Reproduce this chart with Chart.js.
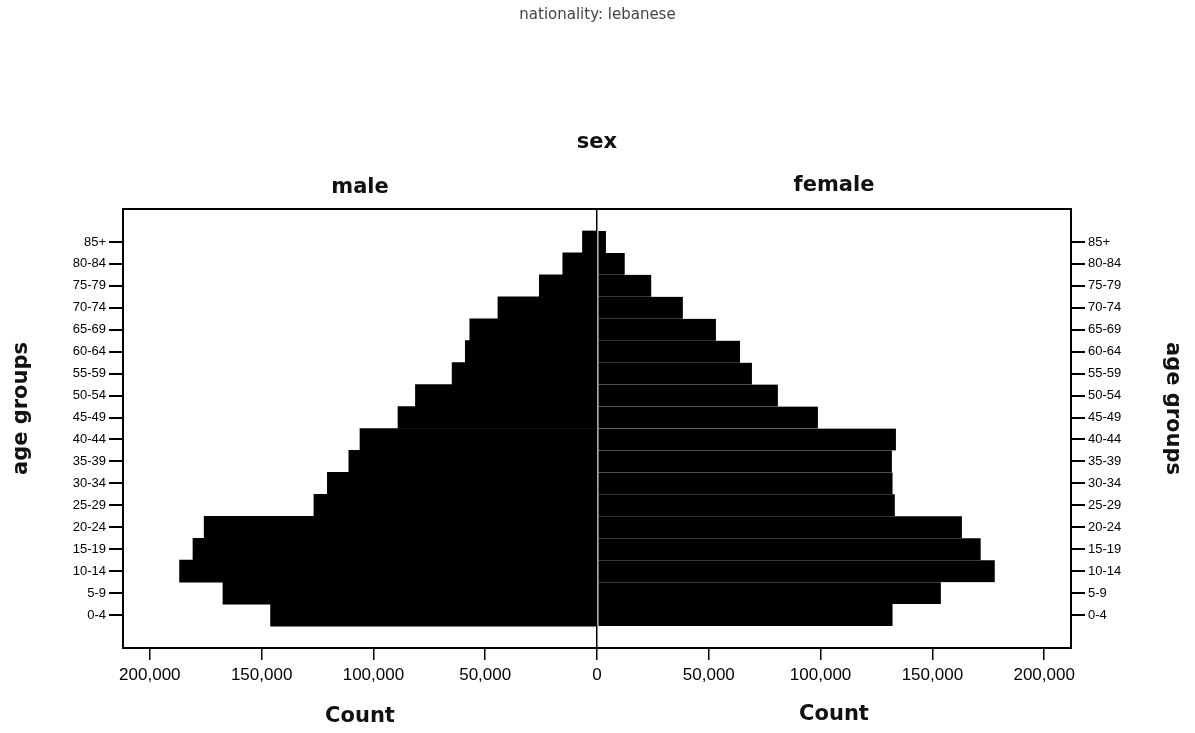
<!DOCTYPE html>
<html>
<head>
<meta charset="utf-8">
<script src="https://cdn.jsdelivr.net/npm/chart.js@4.4.0/dist/chart.umd.min.js"></script>
<style>
  html, body { margin: 0; padding: 0; background: #fff; }
</style>
</head>
<body>
<canvas id="chart" width="1195" height="733"></canvas>
<script>
// age groups, top row first (as in the picture)
const ageGroups = ["85+", "80-84", "75-79", "70-74", "65-69", "60-64", "55-59", "50-54", "45-49",
    "40-44", "35-39", "30-34", "25-29", "20-24", "15-19", "10-14", "5-9", "0-4"];
const maleCounts = [6500, 15300, 25800, 44300, 56900, 58900, 64800, 81200, 89000,
    106000, 111000, 120600, 126600, 175700, 180700, 186700, 167300, 146000];
const femaleCounts = [4000, 12400, 24300, 38400, 53200, 64000, 69300, 80900, 98800,
    133700, 131900, 132200, 133200, 163200, 171600, 177900, 153800, 132200];
const countTicks = [-200000, -150000, -100000, -50000, 0, 50000, 100000, 150000, 200000];
const countLimit = 212000;

// one empty row above and below, so the box has the extra space of the original
const rows = ["", ...ageGroups, ""];
const pad = list => [null, ...list, null];

const black = "#000";
const titleFont = 'bold 21px "DejaVu Sans"';

const keepRealRows = scale => {
    scale.ticks = scale.ticks.filter(t => rows[t.value] !== "");
};

const ageAxis = (position, width) => ({
    type: "category",
    position,
    offset: true,
    border: {display: false},
    grid: {drawOnChartArea: false, offset: false, tickLength: 14, tickColor: black, lineWidth: 2},
    ticks: {autoSkip: false, padding: 3, color: black, font: {family: "Liberation Sans", size: 13}},
    afterBuildTicks: keepRealRows,
    afterFit: scale => { scale.width = width; }
});

const panelText = {
    id: "panelText",
    afterDraw(chart) {
        const {ctx, chartArea: a, scales: {x}} = chart;
        const zero = x.getPixelForValue(0);
        const maleX = (a.left + zero) / 2;
        const femaleX = (zero + a.right) / 2;
        const midY = (a.top + a.bottom) / 2 - 20;
        ctx.save();
        ctx.strokeStyle = black;
        ctx.lineWidth = 2;
        ctx.strokeRect(a.left, a.top, a.right - a.left, a.bottom - a.top);

        ctx.textAlign = "center";
        ctx.textBaseline = "middle";
        ctx.fillStyle = "#444";
        ctx.font = '15px "DejaVu Sans"';
        ctx.fillText("nationality: lebanese", chart.width / 2, 15);

        ctx.fillStyle = "#111";
        ctx.font = titleFont;
        ctx.fillText("sex", zero, a.top - 66);
        ctx.fillText("male", maleX, a.top - 21);
        ctx.fillText("female", femaleX, a.top - 23);
        ctx.fillText("Count", maleX, a.bottom + 69);
        ctx.fillText("Count", femaleX, a.bottom + 67);

        ctx.translate(22, midY);
        ctx.rotate(-Math.PI / 2);
        ctx.fillText("age groups", 0, 0);
        ctx.restore();

        ctx.save();
        ctx.fillStyle = "#111";
        ctx.font = titleFont;
        ctx.textAlign = "center";
        ctx.textBaseline = "middle";
        ctx.translate(chart.width - 23, midY);
        ctx.rotate(Math.PI / 2);
        ctx.fillText("age groups", 0, 0);
        ctx.restore();
    }
};

new Chart("chart", {
    type: "bar",
    data: {
        labels: rows,
        datasets: [
            {label: "male", data: pad(maleCounts.map(v => -v)), backgroundColor: black},
            {
                label: "female",
                data: pad(femaleCounts),
                backgroundColor: black,
                borderColor: "#fff",
                borderWidth: {left: 1, top: 0, right: 0, bottom: 0},
                borderSkipped: false
            }
        ]
    },
    options: {
        indexAxis: "y",
        responsive: false,
        animation: false,
        devicePixelRatio: 1,
        barPercentage: 1,
        categoryPercentage: 1,
        layout: {padding: {top: 209, left: 0, right: 0, bottom: 0}},
        plugins: {legend: {display: false}, tooltip: {enabled: false}},
        scales: {
            x: {
                type: "linear",
                position: "bottom",
                stacked: true,
                min: -countLimit,
                max: countLimit,
                border: {display: false},
                grid: {
                    color: c => (c.tick && c.tick.value === 0 ? black : "rgba(0,0,0,0)"),
                    lineWidth: 1.5,
                    tickColor: black,
                    tickLength: 12
                },
                ticks: {
                    padding: 5,
                    color: black,
                    font: {family: "Liberation Sans", size: 17},
                    callback: v => Math.abs(v).toLocaleString("en-US")
                },
                afterBuildTicks: scale => { scale.ticks = countTicks.map(value => ({value})); },
                afterFit: scale => { scale.height = 85; }
            },
            y: {...ageAxis("left", 123), stacked: true},
            y2: ageAxis("right", 124)
        }
    },
    plugins: [panelText]
});
</script>
</body>
</html>
